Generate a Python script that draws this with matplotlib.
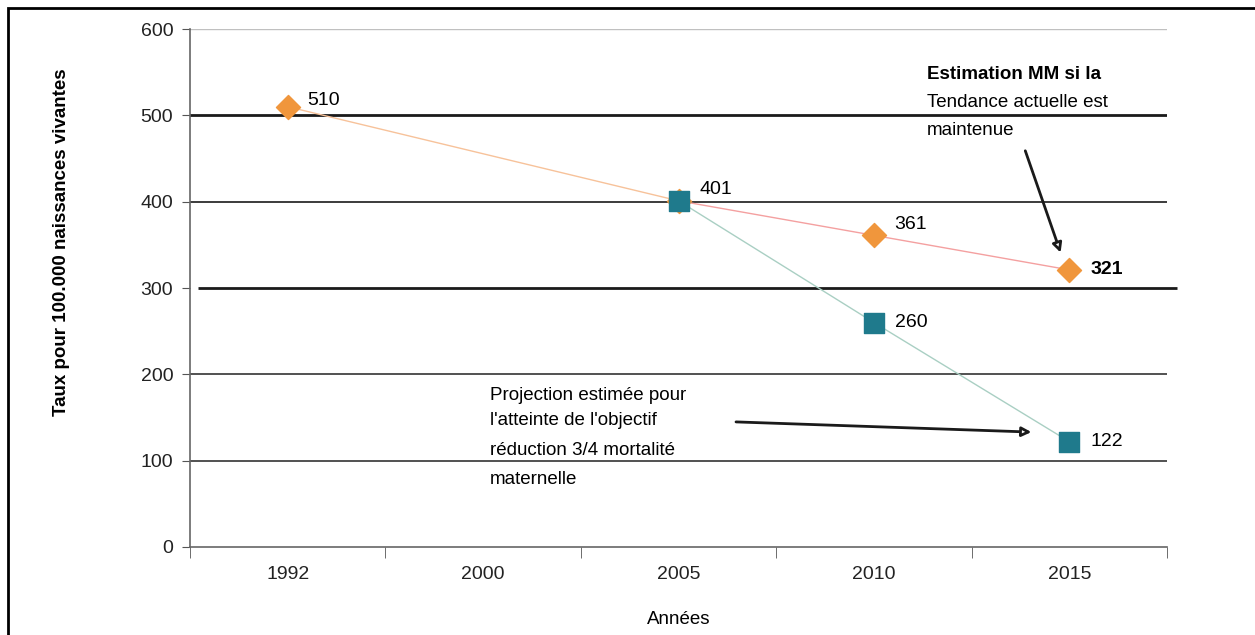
import numpy as np
import matplotlib
matplotlib.use("Agg")
import matplotlib.pyplot as plt
from matplotlib.patches import Rectangle

# Données du graphique
annees = ["1992", "2000", "2005", "2010", "2015"]
tendance = [510, np.nan, 401, 361, 321]      # Estimation MM si la tendance actuelle est maintenue
objectif = [np.nan, np.nan, 401, 260, 122]   # Projection pour l'objectif de réduction 3/4
y_ticks = [0, 100, 200, 300, 400, 500, 600]

NARROW = ["Liberation Sans Narrow", "Liberation Sans", "DejaVu Sans"]
REG = ["Liberation Sans", "DejaVu Sans"]

fig = plt.figure(figsize=(12.55, 6.35), dpi=100)
ax = fig.add_axes([0.1514, 0.1386, 0.7785, 0.8157])

# cadre autour de la figure
fig.patches.append(Rectangle((8 / 1255, -0.1), 1.2, 1 - 8 / 635 + 0.1, transform=fig.transFigure,
                             fill=False, edgecolor="black", linewidth=2.0))

x = np.arange(len(annees))

# lignes horizontales
ax.axhline(600, color="#c0c0c0", lw=1.0, zorder=1)
ax.axhline(500, color="#1a1a1a", lw=2.0, zorder=1)
ax.axhline(400, color="#1a1a1a", lw=1.2, zorder=1)
ax.axhline(200, color="#333333", lw=1.2, zorder=1)
ax.axhline(100, color="#333333", lw=1.2, zorder=1)
ax.hlines(300, -0.46, 4.55, color="#1a1a1a", lw=2.0, zorder=1, clip_on=False)

# courbe tendance (orange)
t = np.array(tendance)
m = ~np.isnan(t)
xt, yt = x[m], t[m]
ax.plot(xt[:2], yt[:2], color="#f7c29a", lw=1.0, zorder=2)
ax.plot(xt[1:], yt[1:], color="#f4a0a0", lw=1.0, zorder=2)

# courbe objectif (bleu-vert)
o = np.array(objectif)
mo = ~np.isnan(o)
ax.plot(x[mo], o[mo], color="#a9cfc3", lw=1.0, zorder=2)

ax.scatter(xt, yt, marker="D", s=150, color="#f0963c", edgecolor="#f0963c", zorder=4)
ax.scatter(x[mo], o[mo], marker="s", s=210, color="#1f7a8c", edgecolor="#1f7a8c", zorder=5)

# étiquettes des valeurs
offs_t = [(20, 6), (21, 11), (20, 11), (21, 0)]
for (xi, yi), off, in zip(zip(xt, yt), offs_t):
    bold = "bold" if xi == 4 else "normal"
    ax.annotate(f"{int(yi)}", (xi, yi), xytext=off, textcoords="offset pixels",
                ha="left", va="center", fontsize=14, family=REG, fontweight=bold)
for xi, yi in zip(x[mo][1:], o[mo][1:]):
    ax.annotate(f"{int(yi)}", (xi, yi), xytext=(21, 0), textcoords="offset pixels",
                ha="left", va="center", fontsize=14, family=REG)

# annotations
ax.text(3.27, 547, "Estimation MM si la", fontsize=13.5, family=NARROW, fontweight="bold",
        ha="left", va="center")
ax.text(3.27, 515, "Tendance actuelle est", fontsize=13.5, family=NARROW, ha="left", va="center")
ax.text(3.27, 483, "maintenue", fontsize=13.5, family=NARROW, ha="left", va="center")
ax.annotate("", xy=(3.96, 338), xytext=(3.77, 462),
            arrowprops=dict(arrowstyle="-|>", color="#1a1a1a", lw=2, mutation_scale=14, fc="white"))

lignes = ["Projection estimée pour", "l'atteinte de l'objectif",
          "réduction 3/4 mortalité", "maternelle"]
for ly, txt in zip([176, 146, 112, 78], lignes):
    ax.text(1.035, ly, txt, fontsize=13.5, family=NARROW, ha="left", va="center")
ax.annotate("", xy=(3.82, 133), xytext=(2.28, 145),
            arrowprops=dict(arrowstyle="-|>", color="#1a1a1a", lw=2, mutation_scale=14, fc="white"))

# axes
ax.set_xlim(-0.5, 4.5)
ax.set_ylim(0, 600)
ax.set_yticks(y_ticks)
ax.set_yticklabels([str(v) for v in y_ticks], fontsize=14, family=REG, color="#222222")
ax.set_xticks(x)
ax.set_xticklabels(annees, fontsize=14, family=REG, color="#222222")
ax.set_xticks(np.arange(-0.5, 5, 1), minor=True)
ax.tick_params(axis="x", which="major", length=0, pad=14)
ax.tick_params(axis="x", which="minor", length=8, color="#555555", direction="out")
ax.tick_params(axis="y", length=6, color="#555555", direction="out", pad=6)

for s in ["top", "right"]:
    ax.spines[s].set_visible(False)
ax.spines["left"].set_color("#666666")
ax.spines["bottom"].set_color("#666666")
ax.spines["left"].set_linewidth(1.2)
ax.spines["bottom"].set_linewidth(1.2)

ax.set_xlabel("Années", fontsize=13.5, family=NARROW, labelpad=20)
# titre de l'axe y, décalé vers le haut comme dans l'original
fig.text(62 / 1255, 1 - 242 / 635, "Taux pour 100.000 naissances vivantes", fontsize=13.5,
         family=REG, fontweight="bold", rotation=90, ha="center", va="center")

fig.savefig("out.png", dpi=100)
